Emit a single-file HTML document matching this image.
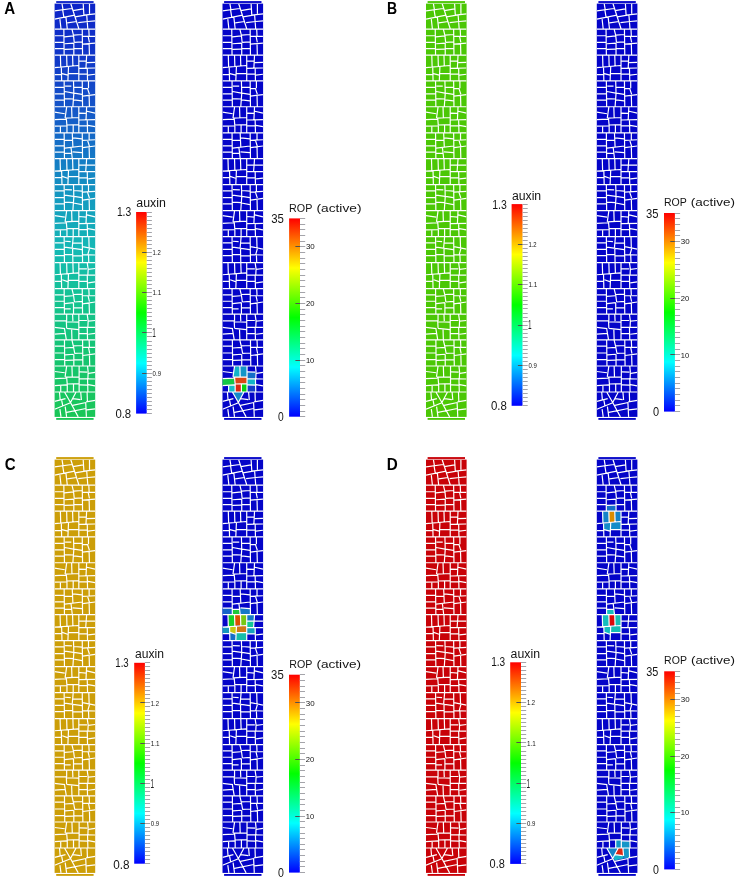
<!DOCTYPE html><html><head><meta charset="utf-8"><style>html,body{margin:0;padding:0;background:#fff;overflow:hidden}svg{display:block}</style></head><body>
<svg width="737" height="879" viewBox="0 0 737 879" font-family='"Liberation Sans", sans-serif'>
<rect width="737" height="879" fill="#fff"/>
<defs>
<linearGradient id="cb" x1="0" y1="1" x2="0" y2="0"><stop offset="0" stop-color="#0000ff"/><stop offset="0.25" stop-color="#00ffff"/><stop offset="0.5" stop-color="#00ff00"/><stop offset="0.75" stop-color="#ffff00"/><stop offset="1" stop-color="#ff0000"/></linearGradient>
<linearGradient id="gA" gradientUnits="userSpaceOnUse" x1="0" y1="0" x2="0" y2="420"><stop offset="0" stop-color="rgb(12,34,200)"/><stop offset="0.12" stop-color="rgb(16,52,200)"/><stop offset="0.24" stop-color="rgb(20,80,200)"/><stop offset="0.357" stop-color="rgb(20,115,198)"/><stop offset="0.476" stop-color="rgb(20,155,192)"/><stop offset="0.595" stop-color="rgb(20,185,180)"/><stop offset="0.714" stop-color="rgb(20,195,145)"/><stop offset="0.833" stop-color="rgb(20,196,115)"/><stop offset="0.976" stop-color="rgb(25,198,90)"/><stop offset="1" stop-color="rgb(25,198,85)"/></linearGradient>
<clipPath id="mc"><rect x="0" y="3.6" width="40.60" height="413.3"/></clipPath>
<path id="mesh" d="M7.40 3.70L8.50 10.20M16.20 3.70L24.30 29.05M28.60 3.70L29.30 15.20M34.90 3.70L34.90 13.80M0.00 10.80L17.30 8.50M18.30 10.60L28.60 8.80M29.30 15.20L40.60 13.80M8.10 10.20L9.20 16.90M0.00 19.10L20.10 15.20M20.50 16.90L32.10 14.80M5.30 19.10L6.40 29.05M11.30 16.90L12.70 29.05M12.70 22.90L22.20 21.50M23.60 22.60L33.20 21.50M32.10 14.80L33.20 29.05M33.20 21.50L40.60 20.80M9.90 392.00L15.90 402.50M21.50 392.00L15.90 402.50M15.90 402.50L23.60 416.90M4.90 392.00L5.60 400.30M0.00 401.40L10.90 398.60M7.10 400.30L8.10 405.60M0.00 409.20L15.90 402.70M18.30 398.60L25.80 399.60M26.10 392.00L26.80 400.00M32.50 392.00L32.80 401.40M18.00 405.30L31.40 402.50M31.40 401.80L40.60 400.30M31.10 402.50L31.80 416.90M32.10 409.90L40.60 408.80M5.30 409.20L6.40 416.90M10.60 406.70L12.00 416.90M12.00 412.30L31.40 408.50M9.24 29.18L9.55 55.09M9.86 36.86L18.91 35.93M10.17 43.73L18.91 43.10M10.17 49.47L18.60 49.16M17.35 29.18L18.91 35.43M18.91 35.43L19.66 42.61M19.23 42.92L19.23 55.09M19.23 35.11L27.34 34.49M19.85 42.29L27.34 41.86M19.23 48.54L27.34 48.54M0.00 35.74L9.24 35.74M0.00 42.29L9.24 42.29M0.00 48.54L9.24 48.54M27.65 29.18L27.97 55.09M34.21 29.18L34.52 35.74M27.97 36.36L40.45 36.36M33.58 36.36L34.83 42.29M27.97 44.17L40.45 43.10M34.52 43.54L34.83 55.09M5.81 55.50L6.12 67.04M12.05 55.50L12.36 66.42M17.98 55.50L18.29 65.80M24.22 55.50L24.22 80.78M0.00 67.67L23.60 65.48M24.84 61.11L31.40 61.11M32.02 55.50L31.40 67.67M32.33 62.68L40.45 62.36M24.53 68.29L40.45 67.98M32.65 67.98L32.96 80.78M24.84 74.22L32.33 74.22M33.27 75.16L40.45 74.22M6.74 67.67L7.05 80.78M13.92 66.73L13.30 80.78M0.00 74.54L6.74 74.54M7.37 73.60L13.30 75.16M13.92 73.60L23.91 73.60M0.00 87.43L9.24 87.43M0.00 93.86L9.24 93.86M0.00 100.22L9.24 100.22M9.55 81.18L9.86 106.78M10.49 86.18L16.73 86.18M10.17 91.48L18.91 93.04M10.17 98.66L18.60 98.98M18.91 81.18L19.23 93.36M19.23 93.36L18.29 106.78M19.54 87.11L27.34 87.43M19.54 93.04L27.34 94.29M19.23 99.91L27.34 100.85M27.65 81.18L27.97 106.78M33.90 81.18L33.90 88.36M27.97 88.36L33.58 88.68M32.96 88.68L34.83 94.29M27.97 96.17L40.45 94.61M34.52 95.54L34.83 106.78M0.00 112.18L10.17 113.74M0.00 119.67L11.42 119.04M0.00 126.22L11.74 125.91M12.05 107.18L10.49 118.11M17.04 107.18L17.35 117.48M24.22 107.18L24.22 132.78M10.80 118.11L23.91 117.48M11.74 118.73L12.36 125.91M12.36 124.98L24.22 124.66M5.81 126.22L5.81 132.78M12.36 125.60L12.36 132.78M18.60 124.98L18.60 132.78M32.02 107.18L31.40 119.98M24.84 113.11L31.71 113.43M32.33 111.24L40.45 113.11M24.53 119.98L40.45 119.67M32.65 119.98L32.96 132.78M24.84 125.91L32.33 125.91M33.27 125.29L40.45 126.54M0.00 139.43L9.24 139.43M0.00 145.86L9.24 145.86M0.00 152.22L9.24 152.22M9.55 133.18L9.86 158.47M9.86 140.36L18.29 140.36M10.17 153.47L16.73 153.47M17.67 133.18L18.29 146.92M16.42 147.54L17.67 158.47M18.29 137.87L27.34 138.80M10.17 148.17L27.65 145.98M17.98 151.91L27.34 152.54M27.65 133.18L27.97 158.47M34.52 133.18L34.52 139.74M27.97 140.36L40.45 139.74M32.96 140.36L34.83 146.29M27.97 147.54L40.45 145.98M34.52 146.92L34.83 158.47M5.49 159.18L5.81 170.42M12.05 159.18L12.36 169.80M17.98 159.18L18.29 169.48M24.22 159.18L24.22 184.47M0.00 171.04L23.60 169.48M32.02 159.18L31.09 171.67M24.84 165.11L40.45 165.11M24.53 171.67L40.45 171.67M32.65 171.67L32.96 184.47M24.84 177.91L32.33 177.91M33.58 178.85L40.45 178.22M7.05 171.04L7.37 184.47M13.92 170.42L13.30 184.47M0.00 177.60L6.74 177.60M7.68 176.35L12.98 178.22M13.92 176.66L23.60 176.66M0.00 190.80L9.24 190.80M0.00 197.67L9.24 197.67M0.00 203.91L9.24 203.91M9.55 184.87L9.86 210.47M10.49 189.55L17.35 189.87M10.17 195.17L18.91 196.42M10.17 202.04L18.60 202.66M18.91 184.87L19.23 196.73M19.23 196.73L18.29 210.47M19.54 190.49L27.34 191.11M19.54 196.42L27.34 197.67M18.91 202.98L27.34 204.54M27.65 184.87L27.97 210.47M33.90 184.87L33.90 191.74M27.97 192.05L40.45 191.43M32.96 192.36L34.83 197.98M27.97 200.17L40.45 198.29M34.52 199.23L34.83 210.47M0.00 215.55L10.17 217.11M0.00 223.36L11.42 222.73M0.00 229.91L11.74 229.60M12.05 210.87L10.49 221.80M17.04 210.87L17.35 221.17M24.22 210.87L24.22 236.47M10.80 221.80L23.91 221.17M11.74 222.42L12.36 229.60M12.36 228.66L24.22 228.35M5.81 229.91L5.81 236.47M12.36 229.29L12.36 236.47M18.60 228.66L18.60 236.47M32.02 210.87L31.40 223.36M24.84 216.49L31.71 217.11M32.33 214.93L40.45 216.80M24.53 223.67L40.45 223.36M32.65 223.67L32.96 236.47M24.84 229.60L32.33 229.60M33.27 228.66L40.45 229.91M0.00 242.80L9.24 242.80M0.00 249.36L9.24 249.36M0.00 255.60L9.24 255.60M9.55 236.87L9.86 262.47M10.49 241.24L16.10 241.55M10.17 247.17L18.91 248.42M10.17 254.66L17.98 254.66M18.60 236.87L17.67 247.48M17.98 248.11L18.29 262.47M18.29 243.11L27.34 243.11M18.60 248.42L27.34 249.67M18.60 255.91L27.34 255.60M27.65 236.87L27.97 262.47M34.21 236.87L34.52 247.48M27.97 246.55L40.45 249.04M34.83 248.73L33.27 254.35M27.97 254.66L40.45 254.98M33.90 254.98L34.21 262.47M5.49 262.87L5.81 273.80M12.05 262.87L12.36 273.17M18.29 262.87L18.60 272.86M24.22 262.87L24.22 288.47M0.00 274.73L23.60 272.86M24.84 268.80L32.33 268.80M32.65 262.87L33.58 269.11M33.58 269.11L33.27 274.73M33.58 269.43L40.45 268.49M24.53 275.04L40.45 275.04M32.65 275.04L32.96 288.47M24.84 281.29L32.33 281.29M33.58 282.85L40.45 281.91M6.74 274.73L7.05 288.47M13.92 273.80L13.30 288.47M0.00 281.29L6.74 281.29M7.68 279.73L12.98 281.60M13.92 280.35L23.60 280.35M0.00 294.80L9.24 294.80M0.00 301.23L9.24 301.23M0.00 307.60L9.24 307.60M9.55 288.87L9.86 314.15M9.86 296.36L18.29 295.74M10.17 303.54L18.91 302.61M10.17 308.85L16.10 308.85M17.35 288.87L18.91 295.11M18.91 295.11L19.85 301.98M18.91 302.61L18.91 314.15M18.91 294.49L27.34 294.18M19.85 301.98L27.34 301.36M18.91 307.60L27.34 307.91M27.65 288.87L27.97 314.15M34.21 288.87L34.52 295.11M27.97 295.74L40.45 295.74M33.58 296.05L34.83 301.67M27.97 303.85L40.45 301.98M34.52 302.92L34.83 314.15M12.05 314.56L12.05 321.11M17.98 314.56L18.29 321.11M24.22 314.56L24.22 339.84M0.00 320.80L11.74 320.80M11.74 321.74L24.22 322.05M11.74 321.11L12.05 328.29M0.00 327.36L10.49 328.61M12.05 328.29L23.91 329.54M9.86 328.61L11.74 339.84M17.04 329.85L17.35 339.84M0.00 334.22L10.49 333.29M24.84 320.49L32.33 320.49M33.58 321.11L40.45 320.49M32.65 314.56L33.58 321.11M33.58 321.11L33.27 327.04M24.53 327.36L40.45 327.36M32.65 327.36L32.96 339.84M24.84 333.60L32.33 333.60M33.58 334.22L40.45 333.29M0.00 346.11L9.55 346.11M0.00 352.98L9.55 352.98M0.00 359.54L9.55 359.54M9.86 340.18L10.17 366.09M10.17 347.99L18.91 347.36M10.49 354.85L18.91 354.23M10.49 360.47L18.60 360.16M17.35 340.18L18.91 346.74M18.91 346.74L20.16 353.61M19.23 354.23L19.23 366.09M18.91 345.80L27.65 345.49M20.16 353.29L27.65 352.98M19.23 359.54L27.65 359.85M27.97 340.18L28.28 366.09M34.52 340.18L34.83 346.74M28.28 347.36L40.45 347.36M33.90 347.36L35.14 353.61M28.28 355.48L40.45 353.92M34.83 354.54L35.14 366.09M0.00 371.49L10.17 372.74M0.00 378.67L11.42 378.04M0.00 385.54L12.05 384.91M12.05 366.18L10.49 376.80M17.35 366.18L17.67 376.48M24.53 366.18L24.53 391.78M10.80 377.11L24.22 376.80M12.05 377.42L12.67 384.60M12.67 383.98L24.53 383.66M6.12 385.54L6.12 391.78M12.67 384.60L12.67 391.78M18.91 383.98L18.91 391.78M32.96 366.18L33.58 372.11M33.58 372.11L33.27 378.67M25.16 371.80L32.65 372.11M33.90 373.36L40.45 372.43M24.84 378.67L40.45 378.98M32.96 378.98L33.27 391.78M25.16 384.91L32.65 385.22M33.58 384.60L40.45 385.85M0.00 29.05L40.60 29.05M0.00 55.15L40.60 55.15M0.00 80.85L40.60 80.85M0.00 106.75L40.60 106.75M0.00 132.85L40.60 132.85M0.00 158.70L40.60 158.70M0.00 184.55L40.60 184.55M0.00 210.55L40.60 210.55M0.00 236.55L40.60 236.55M0.00 262.55L40.60 262.55M0.00 288.55L40.60 288.55M0.00 314.20L40.60 314.20M0.00 339.85L40.60 339.85M0.00 366.00L40.60 366.00M0.00 392.00L40.60 392.00" stroke="#fff" stroke-width="1.2" fill="none" clip-path="url(#mc)"/>
</defs>
<g transform="translate(54.60 0.00)"><rect x="1.6" y="1.1" width="37.40" height="1.85" fill="url(#gA)"/><rect x="0" y="3.6" width="40.60" height="413.3" fill="url(#gA)"/><rect x="1.6" y="418.0" width="37.40" height="1.85" fill="url(#gA)"/><use href="#mesh"/></g>
<g transform="translate(222.50 0.00)"><rect x="1.6" y="1.1" width="37.40" height="1.85" fill="#0404c8"/><rect x="0" y="3.6" width="40.60" height="413.3" fill="#0404c8"/><rect x="1.6" y="418.0" width="37.40" height="1.85" fill="#0404c8"/><polygon points="12.05,366.18 17.35,366.18 17.67,376.98 10.61,376.98" fill="#14b4c8"/><polygon points="17.35,366.18 24.53,366.18 24.53,376.98 17.67,376.98" fill="#1496c8"/><polygon points="24.53,371.99 33.08,371.99 33.27,378.85 24.53,378.85" fill="#146ec8"/><polygon points="0.00,378.67 11.42,378.04 12.05,384.91 0.00,385.53" fill="#14c846"/><polygon points="10.80,377.11 24.53,376.79 24.53,383.66 12.67,383.97" fill="#dc4614"/><polygon points="24.53,378.85 33.27,378.85 33.27,385.22 24.53,385.22" fill="#14b4c8"/><polygon points="6.12,385.22 12.67,384.60 12.67,392.02 6.12,392.02" fill="#14bec8"/><polygon points="12.67,383.97 18.91,383.85 18.91,392.02 12.67,392.02" fill="#dc2814"/><polygon points="18.91,383.85 24.53,383.66 24.53,392.02 18.91,392.02" fill="#0ad214"/><polygon points="24.53,385.22 33.27,385.22 33.27,392.02 24.53,392.02" fill="#143cc8"/><polygon points="9.86,392.02 21.47,392.02 15.92,402.51" fill="#148cc8"/><use href="#mesh"/></g>
<g transform="translate(426.00 0.00)"><rect x="1.6" y="1.1" width="37.40" height="1.85" fill="#4bc705"/><rect x="0" y="3.6" width="40.60" height="413.3" fill="#4bc705"/><rect x="1.6" y="418.0" width="37.40" height="1.85" fill="#4bc705"/><use href="#mesh"/></g>
<g transform="translate(596.80 0.00)"><rect x="1.6" y="1.1" width="37.40" height="1.85" fill="#0404c8"/><rect x="0" y="3.6" width="40.60" height="413.3" fill="#0404c8"/><rect x="1.6" y="418.0" width="37.40" height="1.85" fill="#0404c8"/><use href="#mesh"/></g>
<g transform="translate(54.60 456.00)"><rect x="1.6" y="1.1" width="37.40" height="1.85" fill="#cc9e08"/><rect x="0" y="3.6" width="40.60" height="413.3" fill="#cc9e08"/><rect x="1.6" y="418.0" width="37.40" height="1.85" fill="#cc9e08"/><use href="#mesh"/></g>
<g transform="translate(222.50 456.00)"><rect x="1.6" y="1.1" width="37.40" height="1.85" fill="#0404c8"/><rect x="0" y="3.6" width="40.60" height="413.3" fill="#0404c8"/><rect x="1.6" y="418.0" width="37.40" height="1.85" fill="#0404c8"/><polygon points="9.86,153.49 17.04,153.49 17.67,158.67 9.86,158.67" fill="#1ec83c"/><polygon points="0.00,152.24 9.68,152.24 9.86,158.67 0.00,158.67" fill="#1464c8"/><polygon points="17.35,151.93 27.78,152.55 27.97,158.67 17.67,158.67" fill="#1478c8"/><polygon points="5.62,158.98 12.17,158.98 12.36,169.84 5.74,170.22" fill="#14d228"/><polygon points="12.17,158.98 18.10,158.98 18.29,169.59 12.36,169.84" fill="#dc5000"/><polygon points="18.10,158.98 24.22,158.98 24.22,169.28 18.29,169.59" fill="#78c814"/><polygon points="24.22,158.98 31.71,158.98 31.52,165.10 24.22,165.10" fill="#1478c8"/><polygon points="24.22,165.10 31.52,165.10 31.09,171.65 24.22,171.65" fill="#14c896"/><polygon points="0.00,171.03 7.18,170.53 7.24,177.58 0.00,177.58" fill="#1496be"/><polygon points="7.18,170.53 13.92,170.22 13.48,178.21 7.37,176.33" fill="#c8c814"/><polygon points="13.92,170.22 24.22,169.47 24.22,176.65 13.73,176.65" fill="#d27814"/><polygon points="24.22,171.65 32.77,171.65 32.83,177.90 24.22,177.90" fill="#14a0be"/><polygon points="7.37,176.33 13.48,178.21 13.30,184.45 7.37,184.45" fill="#146ec8"/><polygon points="13.73,176.65 24.22,176.65 24.22,184.45 13.30,184.45" fill="#14beaa"/><use href="#mesh"/></g>
<g transform="translate(426.00 456.00)"><rect x="1.6" y="1.1" width="37.40" height="1.85" fill="#c80208"/><rect x="0" y="3.6" width="40.60" height="413.3" fill="#c80208"/><rect x="1.6" y="418.0" width="37.40" height="1.85" fill="#c80208"/><use href="#mesh"/></g>
<g transform="translate(596.80 456.00)"><rect x="1.6" y="1.1" width="37.40" height="1.85" fill="#0404c8"/><rect x="0" y="3.6" width="40.60" height="413.3" fill="#0404c8"/><rect x="1.6" y="418.0" width="37.40" height="1.85" fill="#0404c8"/><polygon points="9.49,49.49 19.16,49.18 19.16,55.17 9.68,55.17" fill="#146ec8"/><polygon points="5.87,55.17 12.11,55.17 12.30,66.47 6.05,67.09" fill="#1482c8"/><polygon points="12.11,55.17 18.04,55.17 18.23,65.91 12.30,66.47" fill="#dc8c00"/><polygon points="18.04,55.17 24.16,55.17 24.16,65.53 18.23,65.91" fill="#1482c8"/><polygon points="6.80,67.59 13.86,66.84 13.42,75.15 7.30,73.59" fill="#148cc8"/><polygon points="13.86,66.84 24.16,65.53 24.16,73.59 13.67,73.59" fill="#148cc8"/><polygon points="9.80,153.49 16.98,153.49 17.60,158.67 9.80,158.67" fill="#14bebe"/><polygon points="5.56,158.98 12.11,158.98 12.30,169.84 5.68,170.22" fill="#14bebe"/><polygon points="12.11,158.98 18.04,158.98 18.23,169.59 12.30,169.84" fill="#dc0a0a"/><polygon points="18.04,158.98 24.16,158.98 24.16,169.28 18.23,169.59" fill="#14beb4"/><polygon points="7.12,170.53 13.86,170.22 13.42,178.21 7.30,176.33" fill="#14bebe"/><polygon points="13.86,170.22 24.16,169.47 24.16,176.65 13.67,176.65" fill="#14beb4"/><polygon points="18.85,383.87 24.47,383.69 24.47,391.99 18.85,391.99" fill="#1496c8"/><polygon points="24.47,384.93 33.02,385.25 33.21,391.99 24.47,391.99" fill="#1496c8"/><polygon points="9.93,391.99 21.47,391.99 15.92,402.47" fill="#1482c8"/><polygon points="21.47,391.99 26.09,391.99 26.78,399.60 18.29,398.60" fill="#dc2814"/><polygon points="26.09,391.99 32.46,391.99 32.77,401.98 26.78,402.60" fill="#1496c8"/><polygon points="18.29,398.60 26.78,399.60 26.78,402.60 17.92,404.47 16.67,401.98" fill="#14b4c8"/><use href="#mesh"/></g>
<rect x="136.10" y="212.00" width="10.60" height="201.60" fill="url(#cb)"/><path d="M146.70 212.50H151.90M146.70 216.50H151.90M146.70 220.50H151.90M146.70 224.50H151.90M146.70 228.50H151.90M146.70 232.50H151.90M146.70 236.50H151.90M146.70 240.50H151.90M146.70 244.50H151.90M146.70 248.50H151.90M146.70 252.50H151.90M146.70 256.50H151.90M146.70 260.50H151.90M146.70 264.50H151.90M146.70 268.50H151.90M146.70 272.50H151.90M146.70 276.50H151.90M146.70 280.50H151.90M146.70 284.50H151.90M146.70 288.50H151.90M146.70 292.50H151.90M146.70 296.50H151.90M146.70 300.50H151.90M146.70 304.50H151.90M146.70 308.50H151.90M146.70 312.50H151.90M146.70 316.50H151.90M146.70 320.50H151.90M146.70 324.50H151.90M146.70 328.50H151.90M146.70 332.50H151.90M146.70 336.50H151.90M146.70 341.50H151.90M146.70 345.50H151.90M146.70 349.50H151.90M146.70 353.50H151.90M146.70 357.50H151.90M146.70 361.50H151.90M146.70 365.50H151.90M146.70 369.50H151.90M146.70 373.50H151.90M146.70 377.50H151.90M146.70 381.50H151.90M146.70 385.50H151.90M146.70 389.50H151.90M146.70 393.50H151.90M146.70 397.50H151.90M146.70 401.50H151.90M146.70 405.50H151.90M146.70 409.50H151.90M146.70 413.50H151.90" stroke="#a4a4aa" stroke-width="1" fill="none"/><path d="M142.10 252.50H146.70M142.10 292.50H146.70M142.10 332.50H146.70M142.10 373.50H146.70" stroke="#505050" stroke-width="1" fill="none"/>
<rect x="289.10" y="218.40" width="10.90" height="198.30" fill="url(#cb)"/><path d="M300.00 218.50H305.20M300.00 224.50H305.20M300.00 229.50H305.20M300.00 235.50H305.20M300.00 241.50H305.20M300.00 246.50H305.20M300.00 252.50H305.20M300.00 258.50H305.20M300.00 263.50H305.20M300.00 269.50H305.20M300.00 275.50H305.20M300.00 280.50H305.20M300.00 286.50H305.20M300.00 292.50H305.20M300.00 297.50H305.20M300.00 303.50H305.20M300.00 309.50H305.20M300.00 314.50H305.20M300.00 320.50H305.20M300.00 326.50H305.20M300.00 331.50H305.20M300.00 337.50H305.20M300.00 343.50H305.20M300.00 348.50H305.20M300.00 354.50H305.20M300.00 360.50H305.20M300.00 365.50H305.20M300.00 371.50H305.20M300.00 377.50H305.20M300.00 382.50H305.20M300.00 388.50H305.20M300.00 394.50H305.20M300.00 399.50H305.20M300.00 405.50H305.20M300.00 411.50H305.20M300.00 416.50H305.20" stroke="#a4a4aa" stroke-width="1" fill="none"/><path d="M295.40 246.50H300.00M295.40 303.50H300.00M295.40 360.50H300.00" stroke="#505050" stroke-width="1" fill="none"/>
<rect x="511.60" y="204.10" width="10.90" height="201.70" fill="url(#cb)"/><path d="M522.50 204.50H527.70M522.50 208.50H527.70M522.50 212.50H527.70M522.50 216.50H527.70M522.50 220.50H527.70M522.50 224.50H527.70M522.50 228.50H527.70M522.50 232.50H527.70M522.50 236.50H527.70M522.50 240.50H527.70M522.50 244.50H527.70M522.50 248.50H527.70M522.50 252.50H527.70M522.50 256.50H527.70M522.50 260.50H527.70M522.50 264.50H527.70M522.50 268.50H527.70M522.50 272.50H527.70M522.50 276.50H527.70M522.50 280.50H527.70M522.50 284.50H527.70M522.50 288.50H527.70M522.50 292.50H527.70M522.50 296.50H527.70M522.50 300.50H527.70M522.50 304.50H527.70M522.50 308.50H527.70M522.50 313.50H527.70M522.50 317.50H527.70M522.50 321.50H527.70M522.50 325.50H527.70M522.50 329.50H527.70M522.50 333.50H527.70M522.50 337.50H527.70M522.50 341.50H527.70M522.50 345.50H527.70M522.50 349.50H527.70M522.50 353.50H527.70M522.50 357.50H527.70M522.50 361.50H527.70M522.50 365.50H527.70M522.50 369.50H527.70M522.50 373.50H527.70M522.50 377.50H527.70M522.50 381.50H527.70M522.50 385.50H527.70M522.50 389.50H527.70M522.50 393.50H527.70M522.50 397.50H527.70M522.50 401.50H527.70M522.50 405.50H527.70" stroke="#a4a4aa" stroke-width="1" fill="none"/><path d="M517.90 244.50H522.50M517.90 284.50H522.50M517.90 325.50H522.50M517.90 365.50H522.50" stroke="#505050" stroke-width="1" fill="none"/>
<rect x="664.00" y="213.00" width="10.90" height="198.60" fill="url(#cb)"/><path d="M674.90 213.50H680.10M674.90 218.50H680.10M674.90 224.50H680.10M674.90 230.50H680.10M674.90 235.50H680.10M674.90 241.50H680.10M674.90 247.50H680.10M674.90 252.50H680.10M674.90 258.50H680.10M674.90 264.50H680.10M674.90 269.50H680.10M674.90 275.50H680.10M674.90 281.50H680.10M674.90 286.50H680.10M674.90 292.50H680.10M674.90 298.50H680.10M674.90 303.50H680.10M674.90 309.50H680.10M674.90 315.50H680.10M674.90 320.50H680.10M674.90 326.50H680.10M674.90 332.50H680.10M674.90 337.50H680.10M674.90 343.50H680.10M674.90 349.50H680.10M674.90 354.50H680.10M674.90 360.50H680.10M674.90 366.50H680.10M674.90 371.50H680.10M674.90 377.50H680.10M674.90 383.50H680.10M674.90 388.50H680.10M674.90 394.50H680.10M674.90 400.50H680.10M674.90 405.50H680.10M674.90 411.50H680.10" stroke="#a4a4aa" stroke-width="1" fill="none"/><path d="M670.30 241.50H674.90M670.30 298.50H674.90M670.30 354.50H674.90" stroke="#505050" stroke-width="1" fill="none"/>
<rect x="134.20" y="662.80" width="10.70" height="200.90" fill="url(#cb)"/><path d="M144.90 662.50H150.10M144.90 666.50H150.10M144.90 670.50H150.10M144.90 674.50H150.10M144.90 678.50H150.10M144.90 682.50H150.10M144.90 686.50H150.10M144.90 690.50H150.10M144.90 694.50H150.10M144.90 698.50H150.10M144.90 702.50H150.10M144.90 706.50H150.10M144.90 711.50H150.10M144.90 715.50H150.10M144.90 719.50H150.10M144.90 723.50H150.10M144.90 727.50H150.10M144.90 731.50H150.10M144.90 735.50H150.10M144.90 739.50H150.10M144.90 743.50H150.10M144.90 747.50H150.10M144.90 751.50H150.10M144.90 755.50H150.10M144.90 759.50H150.10M144.90 763.50H150.10M144.90 767.50H150.10M144.90 771.50H150.10M144.90 775.50H150.10M144.90 779.50H150.10M144.90 783.50H150.10M144.90 787.50H150.10M144.90 791.50H150.10M144.90 795.50H150.10M144.90 799.50H150.10M144.90 803.50H150.10M144.90 807.50H150.10M144.90 811.50H150.10M144.90 815.50H150.10M144.90 819.50H150.10M144.90 823.50H150.10M144.90 827.50H150.10M144.90 831.50H150.10M144.90 835.50H150.10M144.90 839.50H150.10M144.90 843.50H150.10M144.90 847.50H150.10M144.90 851.50H150.10M144.90 855.50H150.10M144.90 859.50H150.10M144.90 863.50H150.10" stroke="#a4a4aa" stroke-width="1" fill="none"/><path d="M140.30 702.50H144.90M140.30 743.50H144.90M140.30 783.50H144.90M140.30 823.50H144.90" stroke="#505050" stroke-width="1" fill="none"/>
<rect x="289.00" y="674.70" width="10.80" height="197.90" fill="url(#cb)"/><path d="M299.80 674.50H305.00M299.80 680.50H305.00M299.80 686.50H305.00M299.80 691.50H305.00M299.80 697.50H305.00M299.80 702.50H305.00M299.80 708.50H305.00M299.80 714.50H305.00M299.80 719.50H305.00M299.80 725.50H305.00M299.80 731.50H305.00M299.80 736.50H305.00M299.80 742.50H305.00M299.80 748.50H305.00M299.80 753.50H305.00M299.80 759.50H305.00M299.80 765.50H305.00M299.80 770.50H305.00M299.80 776.50H305.00M299.80 782.50H305.00M299.80 787.50H305.00M299.80 793.50H305.00M299.80 799.50H305.00M299.80 804.50H305.00M299.80 810.50H305.00M299.80 816.50H305.00M299.80 821.50H305.00M299.80 827.50H305.00M299.80 833.50H305.00M299.80 838.50H305.00M299.80 844.50H305.00M299.80 849.50H305.00M299.80 855.50H305.00M299.80 861.50H305.00M299.80 866.50H305.00M299.80 872.50H305.00" stroke="#a4a4aa" stroke-width="1" fill="none"/><path d="M295.20 702.50H299.80M295.20 759.50H299.80M295.20 816.50H299.80" stroke="#505050" stroke-width="1" fill="none"/>
<rect x="510.20" y="662.30" width="10.80" height="201.60" fill="url(#cb)"/><path d="M521.00 662.50H526.20M521.00 666.50H526.20M521.00 670.50H526.20M521.00 674.50H526.20M521.00 678.50H526.20M521.00 682.50H526.20M521.00 686.50H526.20M521.00 690.50H526.20M521.00 694.50H526.20M521.00 698.50H526.20M521.00 702.50H526.20M521.00 706.50H526.20M521.00 710.50H526.20M521.00 714.50H526.20M521.00 718.50H526.20M521.00 722.50H526.20M521.00 726.50H526.20M521.00 730.50H526.20M521.00 734.50H526.20M521.00 738.50H526.20M521.00 742.50H526.20M521.00 746.50H526.20M521.00 751.50H526.20M521.00 755.50H526.20M521.00 759.50H526.20M521.00 763.50H526.20M521.00 767.50H526.20M521.00 771.50H526.20M521.00 775.50H526.20M521.00 779.50H526.20M521.00 783.50H526.20M521.00 787.50H526.20M521.00 791.50H526.20M521.00 795.50H526.20M521.00 799.50H526.20M521.00 803.50H526.20M521.00 807.50H526.20M521.00 811.50H526.20M521.00 815.50H526.20M521.00 819.50H526.20M521.00 823.50H526.20M521.00 827.50H526.20M521.00 831.50H526.20M521.00 835.50H526.20M521.00 839.50H526.20M521.00 843.50H526.20M521.00 847.50H526.20M521.00 851.50H526.20M521.00 855.50H526.20M521.00 859.50H526.20M521.00 863.50H526.20" stroke="#a4a4aa" stroke-width="1" fill="none"/><path d="M516.40 702.50H521.00M516.40 742.50H521.00M516.40 783.50H521.00M516.40 823.50H521.00" stroke="#505050" stroke-width="1" fill="none"/>
<rect x="664.20" y="671.30" width="10.70" height="198.10" fill="url(#cb)"/><path d="M674.90 671.50H680.10M674.90 676.50H680.10M674.90 682.50H680.10M674.90 688.50H680.10M674.90 693.50H680.10M674.90 699.50H680.10M674.90 705.50H680.10M674.90 710.50H680.10M674.90 716.50H680.10M674.90 722.50H680.10M674.90 727.50H680.10M674.90 733.50H680.10M674.90 739.50H680.10M674.90 744.50H680.10M674.90 750.50H680.10M674.90 756.50H680.10M674.90 761.50H680.10M674.90 767.50H680.10M674.90 773.50H680.10M674.90 778.50H680.10M674.90 784.50H680.10M674.90 790.50H680.10M674.90 795.50H680.10M674.90 801.50H680.10M674.90 807.50H680.10M674.90 812.50H680.10M674.90 818.50H680.10M674.90 824.50H680.10M674.90 829.50H680.10M674.90 835.50H680.10M674.90 841.50H680.10M674.90 846.50H680.10M674.90 852.50H680.10M674.90 858.50H680.10M674.90 863.50H680.10M674.90 869.50H680.10" stroke="#a4a4aa" stroke-width="1" fill="none"/><path d="M670.30 699.50H674.90M670.30 756.50H674.90M670.30 812.50H674.90" stroke="#505050" stroke-width="1" fill="none"/>




<g style="filter:grayscale(1)"><text x="152.60" y="254.97" font-size="7.70" fill="#151515" textLength="8.20" lengthAdjust="spacingAndGlyphs">1.2</text><text x="152.60" y="295.29" font-size="7.70" fill="#151515" textLength="8.80" lengthAdjust="spacingAndGlyphs">1.1</text><text x="152.30" y="337.26" font-size="12.60" fill="#222" textLength="3.60" lengthAdjust="spacingAndGlyphs">1</text><text x="152.60" y="375.93" font-size="7.70" fill="#151515" textLength="8.40" lengthAdjust="spacingAndGlyphs">0.9</text><text x="136.30" y="207.20" font-size="12.50" fill="#141414" textLength="29.60" lengthAdjust="spacingAndGlyphs">auxin</text><text x="116.90" y="216.10" font-size="12.60" fill="#141414" textLength="14.30" lengthAdjust="spacingAndGlyphs">1.3</text><text x="115.40" y="417.60" font-size="12.60" fill="#141414" textLength="15.80" lengthAdjust="spacingAndGlyphs">0.8</text><text x="305.90" y="249.38" font-size="7.70" fill="#151515" textLength="8.90" lengthAdjust="spacingAndGlyphs">30</text><text x="305.90" y="306.04" font-size="7.70" fill="#151515" textLength="8.50" lengthAdjust="spacingAndGlyphs">20</text><text x="305.90" y="362.69" font-size="7.70" fill="#151515" textLength="8.40" lengthAdjust="spacingAndGlyphs">10</text><text x="289.10" y="211.60" font-size="10.40" fill="#141414" textLength="23.30" lengthAdjust="spacingAndGlyphs">ROP</text><text x="316.50" y="211.60" font-size="10.40" fill="#141414" textLength="45.00" lengthAdjust="spacingAndGlyphs">(active)</text><text x="271.20" y="223.10" font-size="12.60" fill="#141414" textLength="12.70" lengthAdjust="spacingAndGlyphs">35</text><text x="278.10" y="421.40" font-size="12.60" fill="#141414" textLength="5.70" lengthAdjust="spacingAndGlyphs">0</text><text x="528.40" y="247.09" font-size="7.70" fill="#151515" textLength="8.20" lengthAdjust="spacingAndGlyphs">1.2</text><text x="528.40" y="287.43" font-size="7.70" fill="#151515" textLength="8.80" lengthAdjust="spacingAndGlyphs">1.1</text><text x="528.10" y="329.42" font-size="12.60" fill="#222" textLength="3.60" lengthAdjust="spacingAndGlyphs">1</text><text x="528.40" y="368.11" font-size="7.70" fill="#151515" textLength="8.40" lengthAdjust="spacingAndGlyphs">0.9</text><text x="511.90" y="199.70" font-size="12.50" fill="#141414" textLength="29.30" lengthAdjust="spacingAndGlyphs">auxin</text><text x="492.20" y="208.60" font-size="12.60" fill="#141414" textLength="14.60" lengthAdjust="spacingAndGlyphs">1.3</text><text x="491.00" y="409.80" font-size="12.60" fill="#141414" textLength="15.90" lengthAdjust="spacingAndGlyphs">0.8</text><text x="680.80" y="244.02" font-size="7.70" fill="#151515" textLength="8.90" lengthAdjust="spacingAndGlyphs">30</text><text x="680.80" y="300.76" font-size="7.70" fill="#151515" textLength="8.50" lengthAdjust="spacingAndGlyphs">20</text><text x="680.80" y="357.51" font-size="7.70" fill="#151515" textLength="8.40" lengthAdjust="spacingAndGlyphs">10</text><text x="663.90" y="206.40" font-size="10.40" fill="#141414" textLength="22.88" lengthAdjust="spacingAndGlyphs">ROP</text><text x="690.81" y="206.40" font-size="10.40" fill="#141414" textLength="44.19" lengthAdjust="spacingAndGlyphs">(active)</text><text x="645.90" y="217.60" font-size="12.60" fill="#141414" textLength="12.50" lengthAdjust="spacingAndGlyphs">35</text><text x="653.00" y="416.10" font-size="12.60" fill="#141414" textLength="6.10" lengthAdjust="spacingAndGlyphs">0</text><text x="150.80" y="705.63" font-size="7.70" fill="#151515" textLength="8.20" lengthAdjust="spacingAndGlyphs">1.2</text><text x="150.80" y="745.81" font-size="7.70" fill="#151515" textLength="8.80" lengthAdjust="spacingAndGlyphs">1.1</text><text x="150.50" y="787.64" font-size="12.60" fill="#222" textLength="3.60" lengthAdjust="spacingAndGlyphs">1</text><text x="150.80" y="826.17" font-size="7.70" fill="#151515" textLength="8.40" lengthAdjust="spacingAndGlyphs">0.9</text><text x="134.90" y="658.00" font-size="12.50" fill="#141414" textLength="29.00" lengthAdjust="spacingAndGlyphs">auxin</text><text x="115.30" y="667.10" font-size="12.60" fill="#141414" textLength="13.40" lengthAdjust="spacingAndGlyphs">1.3</text><text x="113.30" y="868.60" font-size="12.60" fill="#141414" textLength="16.30" lengthAdjust="spacingAndGlyphs">0.8</text><text x="305.70" y="705.62" font-size="7.70" fill="#151515" textLength="8.90" lengthAdjust="spacingAndGlyphs">30</text><text x="305.70" y="762.16" font-size="7.70" fill="#151515" textLength="8.50" lengthAdjust="spacingAndGlyphs">20</text><text x="305.70" y="818.71" font-size="7.70" fill="#151515" textLength="8.40" lengthAdjust="spacingAndGlyphs">10</text><text x="289.20" y="667.60" font-size="10.40" fill="#141414" textLength="23.14" lengthAdjust="spacingAndGlyphs">ROP</text><text x="316.41" y="667.60" font-size="10.40" fill="#141414" textLength="44.69" lengthAdjust="spacingAndGlyphs">(active)</text><text x="271.10" y="679.20" font-size="12.60" fill="#141414" textLength="12.60" lengthAdjust="spacingAndGlyphs">35</text><text x="278.10" y="877.30" font-size="12.60" fill="#141414" textLength="5.90" lengthAdjust="spacingAndGlyphs">0</text><text x="526.90" y="705.27" font-size="7.70" fill="#151515" textLength="8.20" lengthAdjust="spacingAndGlyphs">1.2</text><text x="526.90" y="745.59" font-size="7.70" fill="#151515" textLength="8.80" lengthAdjust="spacingAndGlyphs">1.1</text><text x="526.60" y="787.56" font-size="12.60" fill="#222" textLength="3.60" lengthAdjust="spacingAndGlyphs">1</text><text x="526.90" y="826.23" font-size="7.70" fill="#151515" textLength="8.40" lengthAdjust="spacingAndGlyphs">0.9</text><text x="510.60" y="657.90" font-size="12.50" fill="#141414" textLength="29.40" lengthAdjust="spacingAndGlyphs">auxin</text><text x="491.20" y="666.40" font-size="12.60" fill="#141414" textLength="14.00" lengthAdjust="spacingAndGlyphs">1.3</text><text x="489.60" y="868.20" font-size="12.60" fill="#141414" textLength="15.20" lengthAdjust="spacingAndGlyphs">0.8</text><text x="680.80" y="702.25" font-size="7.70" fill="#151515" textLength="8.90" lengthAdjust="spacingAndGlyphs">30</text><text x="680.80" y="758.85" font-size="7.70" fill="#151515" textLength="8.50" lengthAdjust="spacingAndGlyphs">20</text><text x="680.80" y="815.45" font-size="7.70" fill="#151515" textLength="8.40" lengthAdjust="spacingAndGlyphs">10</text><text x="664.10" y="664.20" font-size="10.40" fill="#141414" textLength="22.82" lengthAdjust="spacingAndGlyphs">ROP</text><text x="690.93" y="664.20" font-size="10.40" fill="#141414" textLength="44.07" lengthAdjust="spacingAndGlyphs">(active)</text><text x="646.30" y="675.70" font-size="12.60" fill="#141414" textLength="12.10" lengthAdjust="spacingAndGlyphs">35</text><text x="653.00" y="874.30" font-size="12.60" fill="#141414" textLength="5.90" lengthAdjust="spacingAndGlyphs">0</text><text x="4.20" y="13.50" font-size="16.00" fill="#000" font-weight="bold" textLength="10.90" lengthAdjust="spacingAndGlyphs">A</text><text x="387.00" y="13.60" font-size="16.00" fill="#000" font-weight="bold" textLength="10.10" lengthAdjust="spacingAndGlyphs">B</text><text x="4.80" y="470.40" font-size="16.00" fill="#000" font-weight="bold" textLength="10.90" lengthAdjust="spacingAndGlyphs">C</text><text x="386.80" y="470.00" font-size="16.00" fill="#000" font-weight="bold" textLength="11.00" lengthAdjust="spacingAndGlyphs">D</text></g>
</svg></body></html>
